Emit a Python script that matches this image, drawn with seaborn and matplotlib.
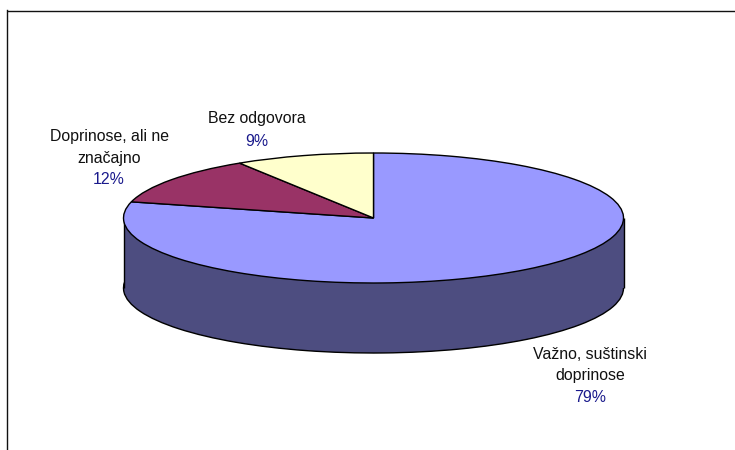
import matplotlib
matplotlib.use("Agg")
import matplotlib.pyplot as plt
import seaborn as sns

categories = ["Važno, suštinski\ndoprinose", "Doprinose, ali ne\nznačajno", "Bez odgovora"]
values = [79, 12, 9]
pct_labels = ["79%", "12%", "9%"]
top_colors = ["#9999FF", "#993366", "#FFFFCC"]
side_colors = ["#4D4D80", "#4D1A33", "#808066"]

sns.set_theme(style="white")
plt.rcParams["font.family"] = ["Liberation Sans", "DejaVu Sans"]

W, H = 735, 450
fig = plt.figure(figsize=(W / 100, H / 100), dpi=100, facecolor="white")
L, T = 7.5, 10.5
ax = fig.add_axes([L / W, 0, 1 - L / W, 1 - T / H])
for s in ["right", "bottom"]:
    ax.spines[s].set_visible(False)
for s in ["left", "top"]:
    ax.spines[s].set_visible(True)
    ax.spines[s].set_color("#111111")
    ax.spines[s].set_linewidth(1.0)

CX, CY, RX, RY, DEPTH = 373.5, 218.0, 250.0, 65.0, 70.0
depth = DEPTH / RY
edge = dict(edgecolor="black", linewidth=1.0)

# lower rim, body, then the top face of the disc
ax.pie(values, colors=side_colors, startangle=90, counterclock=False,
       center=(0, -depth), radius=1, wedgeprops=edge, frame=True)
ax.bar(0, depth, width=2, bottom=-depth, color=side_colors[0], linewidth=0, zorder=1.5)
ax.bar(0, depth, width=1.8, bottom=-depth - 0.1, color=side_colors[0], linewidth=0, zorder=1.5)
ax.vlines([-1, 1], -depth, 0, color="black", linewidth=1.0, zorder=1.6)
wedges, _ = ax.pie(values, colors=top_colors, startangle=90, counterclock=False,
                   center=(0, 0), radius=1, wedgeprops=edge, frame=True)
for w in wedges:
    w.set_zorder(2)

ax.set_aspect("auto")
ax.set_xlim((L - CX) / RX, (W - CX) / RX)
ax.set_ylim((CY - H) / RY, (CY - T) / RY)
ax.set_xticks([])
ax.set_yticks([])

# label anchors in pixels: (centre x, name centre y, percent centre y)
anchors = [(590, 365, 397), (109, 147.5, 179), (257, 119, 142)]
for name, pct, (x, y1, y2) in zip(categories, pct_labels, anchors):
    fig.text(x / W, 1 - y1 / H, name, ha="center", va="center", fontsize=11.4,
             color="#111111", linespacing=1.5)
    fig.text(x / W, 1 - y2 / H, pct, ha="center", va="center", fontsize=11.4,
             color="#1A1A8C")

fig.savefig("out.png", dpi=100, facecolor="white")
